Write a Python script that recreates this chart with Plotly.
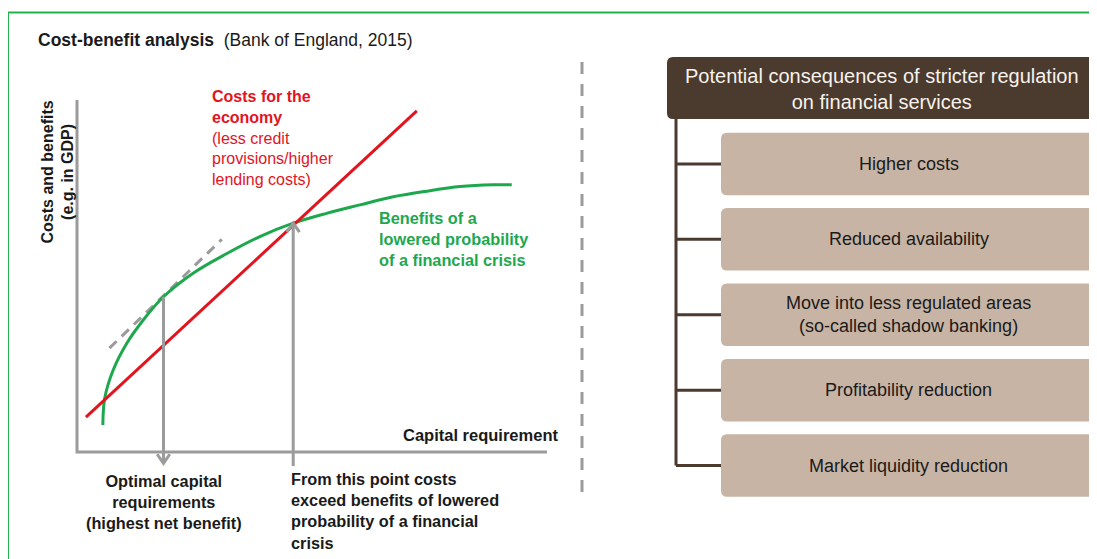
import plotly.graph_objects as go

# Left panel: stylised cost-benefit curves, conceptual units (0-100 on both axes)
capital = [5.5, 5.9, 7.7, 10.6, 14.1, 18.4, 24.7, 31.9, 38.9, 46.0, 53.1, 60.2, 67.3, 74.4, 81.5, 88.6, 92.5]
benefits = [7.7, 15.3, 23.3, 30.9, 37.5, 44.1, 50.8, 56.4, 61.2, 65.0, 67.8, 70.2, 72.5, 74.1, 75.4, 75.9, 75.9]
cost_capital = [1.9, 72.3]
costs = [9.9, 96.9]
tangent_capital = [6.9, 30.8]
tangent_values = [29.5, 60.4]
optimal_capital = 18.4
optimal_value = 44.1
optimal_floor = -3.2
breakeven_capital = 46.0
breakeven_value = 65.0
breakeven_floor = -4.0
axis_max = 100

# Right panel: consequences tree
header = "Potential consequences of stricter regulation<br>on financial services"
consequences = [
    "Higher costs",
    "Reduced availability",
    "Move into less regulated areas<br>(so-called shadow banking)",
    "Profitability reduction",
    "Market liquidity reduction",
]

COLORS = {
    'red': '#e2141e',
    'green': '#1ea84e',
    'gray': '#9b9b9b',
    'text': '#1a1a1a',
    'brown': '#4b3a2e',
    'tan': '#c8b4a4',
    'frame': '#22b34c',
}
FONT = "Arial, Liberation Sans, sans-serif"
W, H = 1097, 559
OFF = 8  # page body margin: the figure starts 8px in from the window corner

# pixel placement of the left axes (origin and 100-unit extents)
X0, XPX = 77, 4.7
Y0, YPX = 452, 3.52

fig = go.Figure()

# tangent at the optimum
fig.add_trace(go.Scatter(x=tangent_capital, y=tangent_values, mode='lines',
                         line=dict(color=COLORS['gray'], width=3, dash='10px,7px')))
# benefits curve
fig.add_trace(go.Scatter(x=capital, y=benefits, mode='lines',
                         line=dict(color=COLORS['green'], width=3, shape='spline')))
# costs line
fig.add_trace(go.Scatter(x=cost_capital, y=costs, mode='lines',
                         line=dict(color=COLORS['red'], width=3)))
# axes (L shape)
fig.add_trace(go.Scatter(x=[0, 0, axis_max], y=[axis_max, 0, 0], mode='lines',
                         line=dict(color=COLORS['gray'], width=3)))

# arrows: shaft + chevron head
dx, dy = 6.3 / XPX, 9 / YPX
fig.add_trace(go.Scatter(x=[optimal_capital, optimal_capital], y=[optimal_value, optimal_floor],
                         mode='lines', line=dict(color=COLORS['gray'], width=3)))
fig.add_trace(go.Scatter(x=[optimal_capital - dx, optimal_capital, optimal_capital + dx],
                         y=[optimal_floor + dy, optimal_floor, optimal_floor + dy],
                         mode='lines', line=dict(color=COLORS['gray'], width=3)))
fig.add_trace(go.Scatter(x=[breakeven_capital, breakeven_capital], y=[breakeven_floor, breakeven_value],
                         mode='lines', line=dict(color=COLORS['gray'], width=3)))
fig.add_trace(go.Scatter(x=[breakeven_capital - dx, breakeven_capital, breakeven_capital + dx],
                         y=[breakeven_value - dy, breakeven_value, breakeven_value - dy],
                         mode='lines', line=dict(color=COLORS['gray'], width=3)))

# invisible anchor for the pixel axes used by the diagram
fig.add_trace(go.Scatter(x=[OFF + 1], y=[OFF + 1], xaxis='x2', yaxis='y2', mode='markers',
                         marker=dict(opacity=0), hoverinfo='skip'))


def rounded(x0, y0, x1, y1, r=6):
    return (f"M{x0+r},{y0} L{x1-r},{y0} Q{x1},{y0} {x1},{y0+r} "
            f"L{x1},{y1-r} Q{x1},{y1} {x1-r},{y1} L{x0+r},{y1} "
            f"Q{x0},{y1} {x0},{y1-r} L{x0},{y0+r} Q{x0},{y0} {x0+r},{y0} Z")


shapes = []
px = dict(xref='x2', yref='y2')

# green frame (top and left edges visible)
shapes.append(dict(type='line', x0=8, y0=12.5, x1=W + 5, y1=12.5, line=dict(color=COLORS['frame'], width=2), **px))
shapes.append(dict(type='line', x0=8, y0=12.5, x1=8, y1=H + 5, line=dict(color=COLORS['frame'], width=2), **px))

# dashed divider
shapes.append(dict(type='line', x0=582, y0=62, x1=582, y1=497,
                   line=dict(color=COLORS['gray'], width=3, dash='12px,10px'), **px))

# header box
shapes.append(dict(type='path', path=rounded(667, 57, 1096, 119), fillcolor=COLORS['brown'],
                   line=dict(width=0), layer='below', **px))

# tree
box_top, box_step, box_h = 132.7, 75.4, 62.5
centers = [box_top + i * box_step + box_h / 2 for i in range(len(consequences))]
shapes.append(dict(type='line', x0=676, y0=119, x1=676, y1=centers[-1],
                   line=dict(color=COLORS['brown'], width=3), **px))
annotations = []
for i, label in enumerate(consequences):
    top = box_top + i * box_step
    shapes.append(dict(type='path', path=rounded(721, top, 1096, top + box_h), fillcolor=COLORS['tan'],
                       line=dict(width=0), layer='below', **px))
    shapes.append(dict(type='line', x0=676, y0=centers[i], x1=721, y1=centers[i],
                       line=dict(color=COLORS['brown'], width=3), **px))
    annotations.append(dict(x=908.5, y=centers[i], text=label, showarrow=False,
                            font=dict(size=18, color=COLORS['text']), **px))

annotations += [
    dict(x=882, y=88.5, text=header, showarrow=False, font=dict(size=20, color='#f7f2ec'), **px),
    dict(x=36, y=40, xanchor='left', text="<b>Cost-benefit analysis</b>  (Bank of England, 2015)",
         showarrow=False, font=dict(size=17.5, color=COLORS['text']), **px),
    dict(x=57.5, y=172, text="<b>Costs and benefits<br>(e.g. in GDP)</b>", textangle=-90,
         showarrow=False, font=dict(size=16, color=COLORS['text']), **px),
    dict(x=210, y=137.5, xanchor='left', align='left',
         text="<b>Costs for the<br>economy</b><br>(less credit<br>provisions/higher<br>lending costs)",
         showarrow=False, font=dict(size=16, color=COLORS['red']), **px),
    dict(x=377, y=239, xanchor='left', align='left',
         text="<b>Benefits of a<br>lowered probability<br>of a financial crisis</b>",
         showarrow=False, font=dict(size=16.3, color=COLORS['green']), **px),
    dict(x=560, y=435, xanchor='right', text="<b>Capital requirement</b>",
         showarrow=False, font=dict(size=16.5, color=COLORS['text']), **px),
    dict(x=164, y=502, text="<b>Optimal capital<br>requirements<br>(highest net benefit)</b>",
         showarrow=False, font=dict(size=16.3, color=COLORS['text']), **px),
    dict(x=289, y=511, xanchor='left', align='left',
         text="<b>From this point costs<br>exceed benefits of lowered<br>probability of a financial<br>crisis</b>",
         showarrow=False, font=dict(size=16.3, color=COLORS['text']), **px),
]

hidden = dict(visible=False, showgrid=False, zeroline=False, fixedrange=True)
fig.update_layout(
    width=W - OFF, height=H - OFF,
    margin=dict(l=0, r=0, t=0, b=0),
    paper_bgcolor='white', plot_bgcolor='white',
    font=dict(family=FONT, color=COLORS['text']),
    showlegend=False,
    xaxis=dict(range=[(OFF - X0) / XPX, (W - X0) / XPX], domain=[0, 1], **hidden),
    yaxis=dict(range=[(Y0 - H) / YPX, (Y0 - OFF) / YPX], domain=[0, 1], **hidden),
    xaxis2=dict(range=[OFF, W], overlaying='x', **hidden),
    yaxis2=dict(range=[H, OFF], overlaying='y', **hidden),
    shapes=shapes,
    annotations=annotations,
    hovermode=False,
)

fig.write_html("out.html")
